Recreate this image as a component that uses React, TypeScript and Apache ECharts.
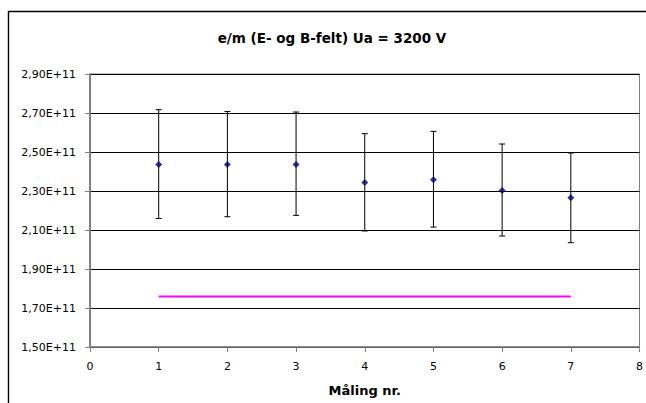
import React, { useEffect, useRef } from "react";
import * as echarts from "echarts";

const measurements = [1, 2, 3, 4, 5, 6, 7];
const emValues = [2.436e11, 2.436e11, 2.436e11, 2.343e11, 2.358e11, 2.303e11, 2.266e11];
const errUpper = [2.717e11, 2.708e11, 2.705e11, 2.594e11, 2.606e11, 2.541e11, 2.495e11];
const errLower = [2.159e11, 2.168e11, 2.175e11, 2.095e11, 2.115e11, 2.069e11, 2.035e11];
const theoryX = [1, 7];
const theoryValue = 1.759e11;

const FONT = "DejaVu Sans, Verdana, sans-serif";

export default function App() {
  const ref = useRef<HTMLDivElement>(null);
  useEffect(() => {
    if (!ref.current) return;
    const chart = echarts.init(ref.current, null, { renderer: "svg" });
    const errData = measurements.map((x, i) => [x, errLower[i], errUpper[i]]);
    const pointData = measurements.map((x, i) => [x, emValues[i]]);
    const theoryData = theoryX.map((x) => [x, theoryValue]);
    chart.setOption({
      animation: false,
      backgroundColor: "#fff",
      textStyle: { fontFamily: FONT },
      title: {
        text: "e/m (E- og B-felt) Ua = 3200 V",
        left: 327,
        top: 26,
        textAlign: "center",
        textStyle: { fontFamily: FONT, fontSize: 13.5, fontWeight: "bold", color: "#000" },
      },
      graphic: [
        {
          type: "rect",
          shape: { x: 8.5, y: 11.5, width: 700, height: 500 },
          style: { fill: "none", stroke: "#000", lineWidth: 1.4 },
          silent: true,
          z: 0,
        },
      ],
      grid: {
        left: 90,
        top: 74,
        width: 552,
        height: 273,
        show: true,
        borderColor: "#808080",
        borderWidth: 1,
        backgroundColor: "transparent",
      },
      xAxis: {
        type: "value",
        min: 0,
        max: 8,
        interval: 1,
        name: "Måling nr.",
        nameLocation: "middle",
        nameGap: 37,
        nameTextStyle: { fontFamily: FONT, fontSize: 13, fontWeight: "bold", color: "#000" },
        axisLine: { show: true, onZero: false, lineStyle: { color: "#808080", width: 1.5 } },
        axisTick: { show: true, length: 5, inside: false, lineStyle: { color: "#808080" } },
        axisLabel: { fontFamily: FONT, fontSize: 11, color: "#000", margin: 14 },
        splitLine: { show: false },
      },
      yAxis: {
        type: "value",
        min: 1.5e11,
        max: 2.9e11,
        interval: 0.2e11,
        axisLine: { show: true, onZero: false, lineStyle: { color: "#808080", width: 2 } },
        axisTick: { show: true, length: 5, inside: false, lineStyle: { color: "#808080" } },
        axisLabel: {
          fontFamily: FONT,
          fontSize: 11,
          color: "#000",
          margin: 14,
          formatter: (v: number) => (v / 1e11).toFixed(2).replace(".", ",") + "E+11",
        },
        splitLine: { show: true, lineStyle: { color: "#000", width: 1 } },
      },
      series: [
        {
          type: "line",
          data: theoryData,
          symbol: "none",
          lineStyle: { color: "#FF00FF", width: 2 },
          z: 3,
        },
        {
          type: "custom",
          data: errData,
          z: 4,
          renderItem: (params: any, api: any) => {
            const x = api.value(0);
            const lo = api.coord([x, api.value(1)]);
            const hi = api.coord([x, api.value(2)]);
            const cap = 3;
            const style = { stroke: "#000", lineWidth: 1 };
            return {
              type: "group",
              children: [
                { type: "line", shape: { x1: lo[0], y1: lo[1], x2: hi[0], y2: hi[1] }, style },
                { type: "line", shape: { x1: hi[0] - cap, y1: hi[1], x2: hi[0] + cap, y2: hi[1] }, style },
                { type: "line", shape: { x1: lo[0] - cap, y1: lo[1], x2: lo[0] + cap, y2: lo[1] }, style },
              ],
            };
          },
        },
        {
          type: "scatter",
          data: pointData,
          symbol: "diamond",
          symbolSize: 7,
          itemStyle: { color: "#000080" },
          z: 5,
        },
      ],
    });
    return () => chart.dispose();
  }, []);
  return (
    <div
      ref={ref}
      style={{ position: "fixed", left: 0, top: 0, width: 646, height: 403 }}
    />
  );
}
